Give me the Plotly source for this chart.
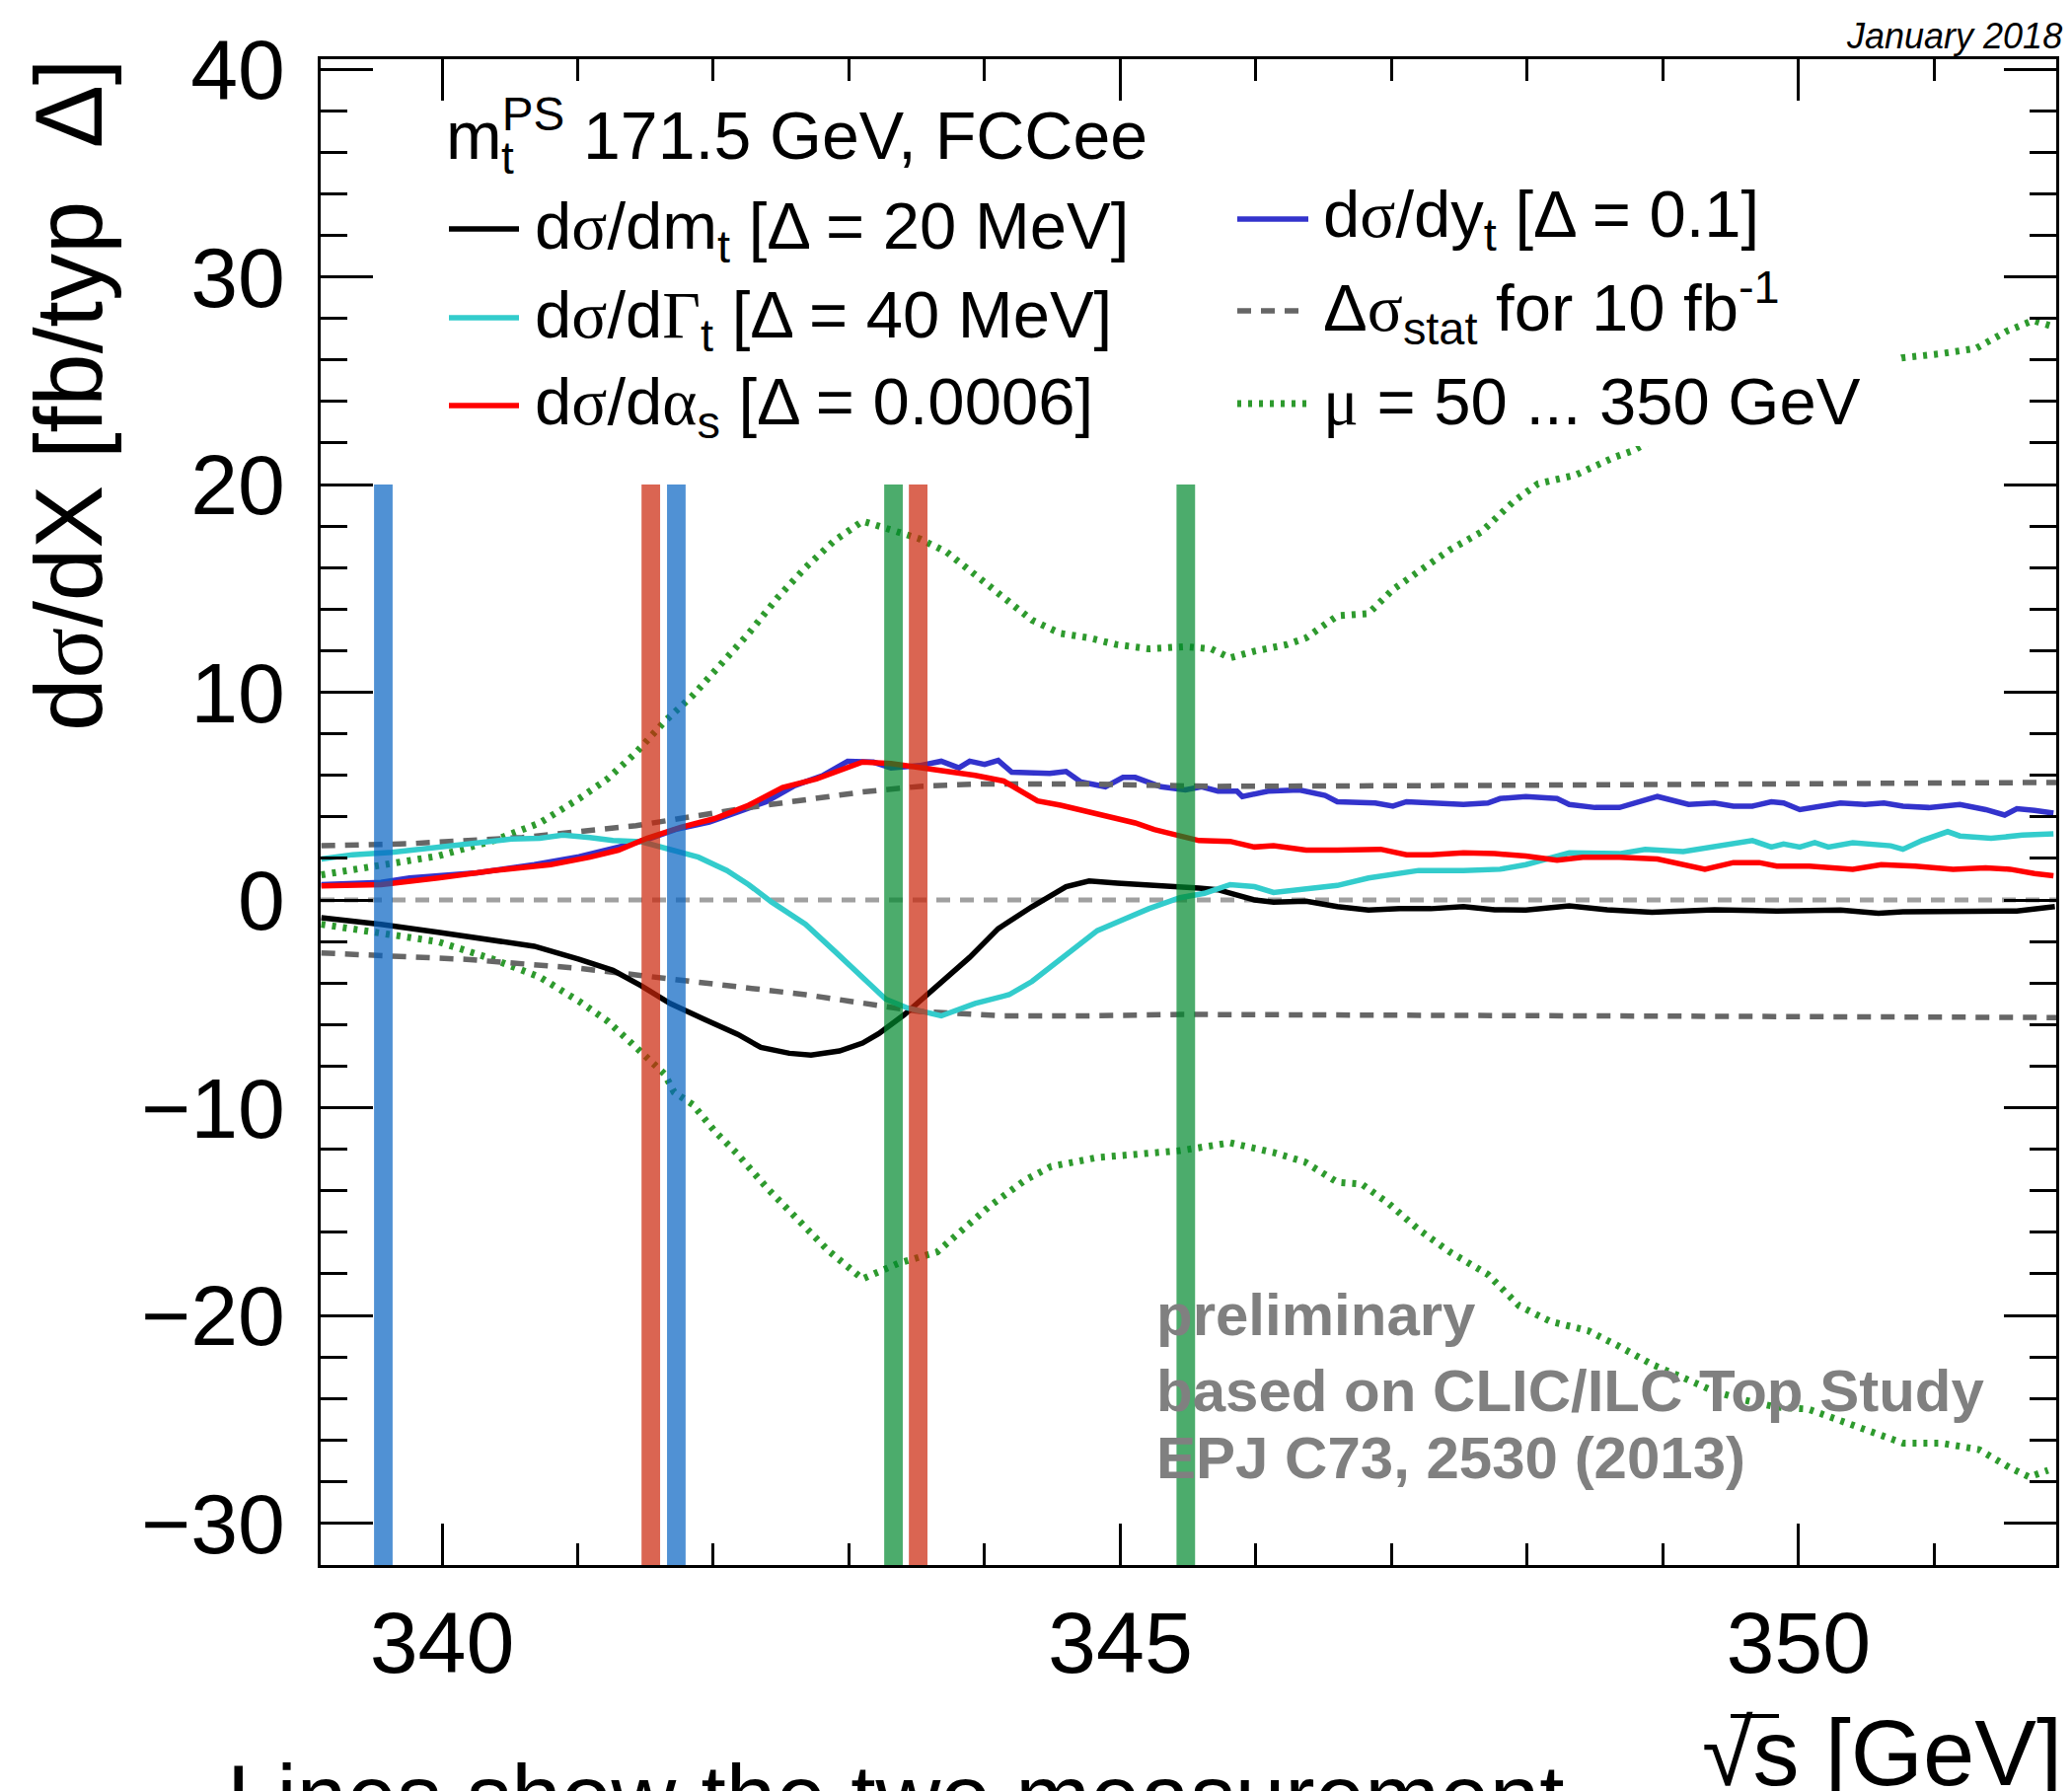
import plotly.graph_objects as go

# ---------------- data ----------------
mt_x = [339.11, 339.55, 339.97, 340.38, 340.68, 341.01, 341.26, 341.47, 341.68, 341.93, 342.18, 342.35,
        342.56, 342.72, 342.93, 343.10, 343.22, 343.41, 343.52, 343.72, 343.89, 344.10, 344.35, 344.60,
        344.77, 344.98, 345.19, 345.44, 345.58, 345.72, 345.99, 346.13, 346.37, 346.60, 346.83, 347.06,
        347.29, 347.53, 347.76, 347.99, 348.31, 348.59, 348.92, 349.38, 349.84, 350.31, 350.59, 350.77,
        351.24, 351.61, 351.89]
mt_y = [-0.85, -1.17, -1.55, -1.91, -2.23, -2.86, -3.39, -4.14, -4.98, -5.73, -6.47, -7.10,
        -7.38, -7.47, -7.27, -6.89, -6.43, -5.51, -4.88, -3.71, -2.76, -1.38, -0.32, 0.64,
        0.91, 0.81, 0.74, 0.60, 0.57, 0.49, 0.00, -0.10, -0.06, -0.32, -0.49, -0.42,
        -0.42, -0.32, -0.47, -0.49, -0.28, -0.47, -0.59, -0.47, -0.53, -0.49, -0.64, -0.57,
        -0.57, -0.53, -0.32]

gt_x = [339.11, 339.34, 339.63, 339.97, 340.18, 340.51, 340.72, 340.89, 341.09, 341.26, 341.47, 341.68,
        341.89, 342.10, 342.26, 342.43, 342.68, 342.89, 343.10, 343.27, 343.43, 343.68, 343.93, 344.18,
        344.35, 344.56, 344.74, 344.83, 345.02, 345.21, 345.44, 345.62, 345.81, 345.99, 346.13, 346.37,
        346.60, 346.83, 347.06, 347.20, 347.53, 347.80, 347.99, 348.31, 348.68, 348.87, 349.15, 349.38,
        349.66, 349.80, 349.89, 350.01, 350.12, 350.22, 350.40, 350.68, 350.77, 350.91, 351.10, 351.19,
        351.42, 351.65, 351.88]
gt_y = [1.97, 2.18, 2.29, 2.55, 2.69, 2.93, 2.97, 3.12, 3.01, 2.86, 2.80, 2.44,
        2.06, 1.42, 0.74, -0.10, -1.17, -2.44, -3.71, -4.77, -5.20, -5.58, -4.98, -4.56,
        -3.92, -2.86, -2.01, -1.48, -0.95, -0.42, 0.11, 0.32, 0.74, 0.64, 0.36, 0.53,
        0.70, 1.06, 1.31, 1.42, 1.42, 1.48, 1.70, 2.27, 2.23, 2.44, 2.33, 2.55,
        2.86, 2.55, 2.69, 2.55, 2.76, 2.55, 2.76, 2.61, 2.44, 2.86, 3.29, 3.08,
        2.97, 3.12, 3.18]

as_x = [339.11, 339.55, 339.97, 340.38, 340.80, 341.09, 341.30, 341.51, 341.76, 342.01, 342.26, 342.51,
        342.76, 342.93, 343.10, 343.31, 343.52, 343.68, 343.93, 344.14, 344.39, 344.56, 344.77, 344.93,
        345.11, 345.25, 345.44, 345.58, 345.81, 345.99, 346.13, 346.37, 346.60, 346.92, 347.11, 347.29,
        347.53, 347.76, 347.99, 348.22, 348.41, 348.68, 348.96, 349.15, 349.31, 349.52, 349.71, 349.84,
        350.08, 350.40, 350.61, 350.86, 351.14, 351.38, 351.56, 351.74, 351.88]
as_y = [0.68, 0.74, 1.06, 1.42, 1.70, 2.06, 2.40, 2.97, 3.50, 3.92, 4.56, 5.41,
        5.83, 6.26, 6.64, 6.57, 6.36, 6.26, 6.00, 5.73, 4.77, 4.56, 4.24, 3.97,
        3.71, 3.39, 3.08, 2.86, 2.82, 2.55, 2.61, 2.40, 2.40, 2.44, 2.18, 2.18,
        2.27, 2.23, 2.12, 1.91, 2.06, 2.06, 1.97, 1.70, 1.48, 1.80, 1.80, 1.63,
        1.63, 1.48, 1.70, 1.63, 1.48, 1.55, 1.48, 1.27, 1.17]

yt_x = [339.11, 339.55, 339.76, 340.26, 340.68, 341.01, 341.30, 341.51, 341.72, 341.97, 342.18, 342.39,
        342.60, 342.81, 342.99, 343.18, 343.31, 343.52, 343.68, 343.81, 343.89, 344.00, 344.10, 344.20,
        344.48, 344.60, 344.71, 344.89, 345.02, 345.11, 345.30, 345.48, 345.60, 345.72, 345.86, 345.90,
        346.09, 346.32, 346.51, 346.60, 346.88, 347.01, 347.11, 347.29, 347.53, 347.71, 347.80, 347.99,
        348.22, 348.31, 348.50, 348.68, 348.82, 348.96, 349.19, 349.38, 349.52, 349.66, 349.80, 349.89,
        350.01, 350.31, 350.49, 350.63, 350.77, 350.96, 351.19, 351.38, 351.52, 351.61, 351.74, 351.88]
yt_y = [0.74, 0.85, 1.06, 1.31, 1.70, 2.08, 2.55, 2.91, 3.39, 3.75, 4.24, 4.73,
        5.51, 6.00, 6.68, 6.64, 6.36, 6.47, 6.68, 6.36, 6.68, 6.53, 6.72, 6.15,
        6.09, 6.19, 5.68, 5.45, 5.90, 5.90, 5.45, 5.30, 5.45, 5.24, 5.24, 4.98,
        5.24, 5.30, 5.03, 4.73, 4.67, 4.52, 4.73, 4.67, 4.60, 4.67, 4.88, 4.98,
        4.88, 4.60, 4.45, 4.45, 4.73, 4.98, 4.60, 4.67, 4.52, 4.52, 4.73, 4.67,
        4.35, 4.67, 4.60, 4.67, 4.52, 4.45, 4.60, 4.35, 4.09, 4.39, 4.31, 4.18]

stat_up_x = [339.11, 339.76, 340.59, 341.43, 342.26, 343.10, 343.52, 343.93, 344.77, 345.67, 347.53, 349.38, 351.90]
stat_up_y = [2.61, 2.71, 3.01, 3.58, 4.45, 5.20, 5.47, 5.58, 5.58, 5.47, 5.51, 5.56, 5.66]
stat_dn_x = [339.11, 340.18, 341.01, 341.85, 342.68, 343.52, 344.14, 344.77, 345.47, 347.53, 349.38, 351.90]
stat_dn_y = [-2.55, -2.86, -3.29, -3.92, -4.56, -5.37, -5.58, -5.58, -5.51, -5.56, -5.58, -5.66]

zero_x = [339.105, 351.9]
zero_y = [0.0, 0.0]

mu_up_x = [339.11, 339.55, 339.97, 340.38, 340.72, 341.01, 341.22, 341.43, 341.64, 341.85, 342.05, 342.26,
           342.47, 342.68, 342.89, 343.10, 343.31, 343.52, 343.72, 343.93, 344.14, 344.35, 344.56, 344.77,
           344.97, 345.21, 345.48, 345.67, 345.81, 345.99, 346.23, 346.37, 346.60, 346.83, 347.01, 347.25,
           347.43, 347.66, 347.90, 348.08, 348.36, 348.64, 348.78, 349.15, 349.61, 350.07, 350.54, 350.76,
           351.05, 351.31, 351.54, 351.73, 351.88]
mu_up_y = [1.21, 1.70, 2.12, 2.86, 3.71, 4.88, 5.83, 7.10, 8.59, 9.86, 11.35, 12.83,
           14.53, 16.01, 17.29, 18.24, 17.82, 17.39, 16.75, 15.69, 14.63, 13.47, 12.83, 12.62,
           12.30, 12.09, 12.20, 12.09, 11.66, 11.98, 12.30, 12.62, 13.68, 13.79, 14.95, 16.01,
           16.86, 17.71, 19.19, 20.04, 20.47, 21.31, 21.63, 23.00, 24.10, 24.50, 25.60, 26.10,
           26.30, 26.56, 27.40, 27.90, 27.60]
mu_dn_x = [339.11, 339.55, 339.97, 340.38, 340.72, 341.01, 341.22, 341.43, 341.64, 341.71, 341.85, 342.01,
           342.17, 342.40, 342.63, 342.85, 343.10, 343.37, 343.65, 344.03, 344.30, 344.49, 344.83, 345.19,
           345.44, 345.81, 346.13, 346.36, 346.60, 346.78, 346.97, 347.20, 347.43, 347.71, 347.94, 348.17,
           348.45, 348.68, 348.92, 349.15, 349.38, 349.61, 349.84, 350.07, 350.31, 350.54, 350.77, 351.05,
           351.33, 351.56, 351.70, 351.84]
mu_dn_y = [-1.17, -1.59, -2.01, -2.86, -3.71, -4.88, -5.83, -7.10, -8.38, -9.25, -9.86, -11.13,
           -12.18, -13.90, -15.43, -16.90, -18.24, -17.48, -16.95, -14.78, -13.48, -12.83, -12.40, -12.18,
           -12.07, -11.69, -12.16, -12.61, -13.59, -13.68, -14.57, -15.87, -16.95, -18.03, -19.54, -20.29,
           -20.74, -21.50, -22.36, -23.00, -23.66, -24.09, -24.42, -24.51, -25.07, -25.61, -26.15, -26.15,
           -26.46, -27.34, -27.78, -27.46]

# measurement-point bands (centre in GeV) and their colours
band_centers = [339.567, 341.539, 341.727, 343.328, 343.510, 345.483]
band_colors = ["rgb(5,99,194)", "rgb(202,35,8)", "rgb(5,99,194)",
               "rgb(0,137,45)", "rgb(202,35,8)", "rgb(0,137,45)"]
band_width = 0.137
band_top = 20.0

x_range = [339.105, 351.9]
y_range = [-32.02, 40.48]

# ---------------- layout helpers ----------------
FW, FH = 2100, 1815
ML, MR, MT, MB = 325, 16, 60, 229
PW = FW - ML - MR
PH = FH - MT - MB


def fx(px):
    return (px - ML) / PW


def fy(py):
    return (FH - MB - py) / PH


FONT = "Liberation Sans, Arial, Helvetica, sans-serif"


def g(ch):
    return '<span style="font-family:Liberation Serif">' + ch + '</span>'


SIG = g("σ")

C_BLACK = "#000000"
C_CYAN = "#33CCCC"
C_RED = "#FF0000"
C_BLUE = "#3333CC"
C_GRAY = "#666666"
C_LGRAY = "#A0A0A0"
C_GREEN = "#2E9A2E"

LW = 5.5
DOT = "4px,7px"
DASH = "14px,10px"

fig = go.Figure()


def add_line(x, y, color, width=LW, dash="solid"):
    fig.add_trace(go.Scatter(x=x, y=y, mode="lines", hoverinfo="skip",
                             line=dict(color=color, width=width, dash=dash)))


add_line(mu_up_x, mu_up_y, C_GREEN, 7, DOT)
add_line(mu_dn_x, mu_dn_y, C_GREEN, 7, DOT)
add_line(zero_x, zero_y, C_LGRAY, 5, DASH)
add_line(yt_x, yt_y, C_BLUE)
add_line(stat_up_x, stat_up_y, C_GRAY, 5.5, DASH)
add_line(stat_dn_x, stat_dn_y, C_GRAY, 5.5, DASH)
add_line(mt_x, mt_y, C_BLACK)
add_line(gt_x, gt_y, C_CYAN)
add_line(as_x, as_y, C_RED)

shapes = []
for c, col in zip(band_centers, band_colors):
    shapes.append(dict(type="rect", xref="x", yref="y",
                       x0=c - band_width / 2, x1=c + band_width / 2,
                       y0=y_range[0], y1=band_top,
                       fillcolor=col, opacity=0.7, line=dict(width=0), layer="above"))

# legend white box (hides the curve behind the legend)
shapes.append(dict(type="rect", xref="paper", yref="paper",
                   x0=fx(1235), x1=fx(1922), y0=fy(452), y1=fy(185),
                   fillcolor="white", line=dict(width=0), layer="above"))

# legend line samples
leg_samples = [
    (455, 526, 232, C_BLACK, LW, "solid"),
    (455, 526, 322, C_CYAN, LW, "solid"),
    (455, 526, 411, C_RED, LW, "solid"),
    (1254, 1326, 222, C_BLUE, LW, "solid"),
    (1254, 1326, 315, C_GRAY, 5.5, DASH),
    (1254, 1326, 409, C_GREEN, 7, DOT),
]
for x0, x1, yy, col, w, d in leg_samples:
    shapes.append(dict(type="line", xref="paper", yref="paper",
                       x0=fx(x0), x1=fx(x1), y0=fy(yy), y1=fy(yy),
                       line=dict(color=col, width=w, dash=d), layer="above"))

# overline of the square root in the x-axis title
shapes.append(dict(type="line", xref="paper", yref="paper",
                   x0=fx(1754), x1=fx(1803), y0=fy(1739), y1=fy(1739),
                   line=dict(color="black", width=4)))

annotations = []


def ann(text, px, py, size, xanchor="left", color="black", yanchor="middle", angle=0):
    annotations.append(dict(text=text, x=fx(px), y=fy(py), xref="paper", yref="paper",
                            xanchor=xanchor, yanchor=yanchor, showarrow=False,
                            textangle=angle,
                            font=dict(family=FONT, size=size, color=color)))


# legend texts
ann("m<sup>PS</sup> 171.5 GeV, FCCee", 450, 132.4, 68)
ann("t", 506, 160, 46)
ann("d" + SIG + "/dm<sub>t</sub> [Δ = 20 MeV]", 540, 233.7, 67)
ann("d" + SIG + "/d" + g("Γ") + "<sub>t</sub> [Δ = 40 MeV]", 540, 323.7, 67)
ann("d" + SIG + "/d" + g("α") + "<sub>s</sub> [Δ = 0.0006]", 540, 411.7, 67)
ann("d" + SIG + "/dy<sub>t</sub> [Δ = 0.1]", 1339, 221.7, 67)
ann("Δ" + SIG + "<sub>stat</sub> for 10 fb<sup>-1</sup>", 1339, 311.7, 67)
ann(g("μ") + " = 50 ... 350 GeV", 1339, 406.8, 67)

# preliminary note
ann("<b>preliminary</b>", 1170, 1332.2, 60, color="#808080")
ann("<b>based on CLIC/ILC Top Study</b>", 1170, 1409.2, 60, color="#808080")
ann("<b>EPJ C73, 2530 (2013)</b>", 1170, 1477.2, 60, color="#808080")

# date
ann("<i>January 2018</i>", 2092, 36.8, 36, xanchor="right")

# axis titles
ann("d" + SIG + "/dX [fb/typ\u00a0 Δ]", 70, 57, 96, xanchor="center", yanchor="top", angle=-90)
ann("√s [GeV]", 2092, 1776, 94, xanchor="right")

# caption (cut off at the bottom of the page)
ann("Lines show the two measurement", 228, 1820.5, 91)

fig.update_layout(
    width=FW, height=FH,
    margin=dict(l=ML, r=MR, t=MT, b=MB, pad=0),
    paper_bgcolor="white", plot_bgcolor="white",
    showlegend=False,
    shapes=shapes,
    annotations=annotations,
    xaxis=dict(range=x_range, showgrid=False, zeroline=False,
               showline=True, linewidth=3, linecolor="black", mirror="ticks",
               ticks="inside", tickwidth=3, ticklen=42, tickcolor="black",
               tick0=340, dtick=5, ticklabelstandoff=0,
               tickfont=dict(family=FONT, size=88, color="black"),
               minor=dict(ticks="inside", dtick=1, ticklen=22, tickwidth=3, tickcolor="black", showgrid=False)),
    yaxis=dict(range=y_range, showgrid=False, zeroline=False,
               showline=True, linewidth=3, linecolor="black", mirror="ticks",
               ticks="inside", tickwidth=3, ticklen=53, tickcolor="black",
               tick0=0, dtick=10, ticklabelstandoff=16,
               tickfont=dict(family=FONT, size=86, color="black"),
               minor=dict(ticks="inside", dtick=2, ticklen=27, tickwidth=3, tickcolor="black", showgrid=False)),
)

fig.write_html("out.html")
